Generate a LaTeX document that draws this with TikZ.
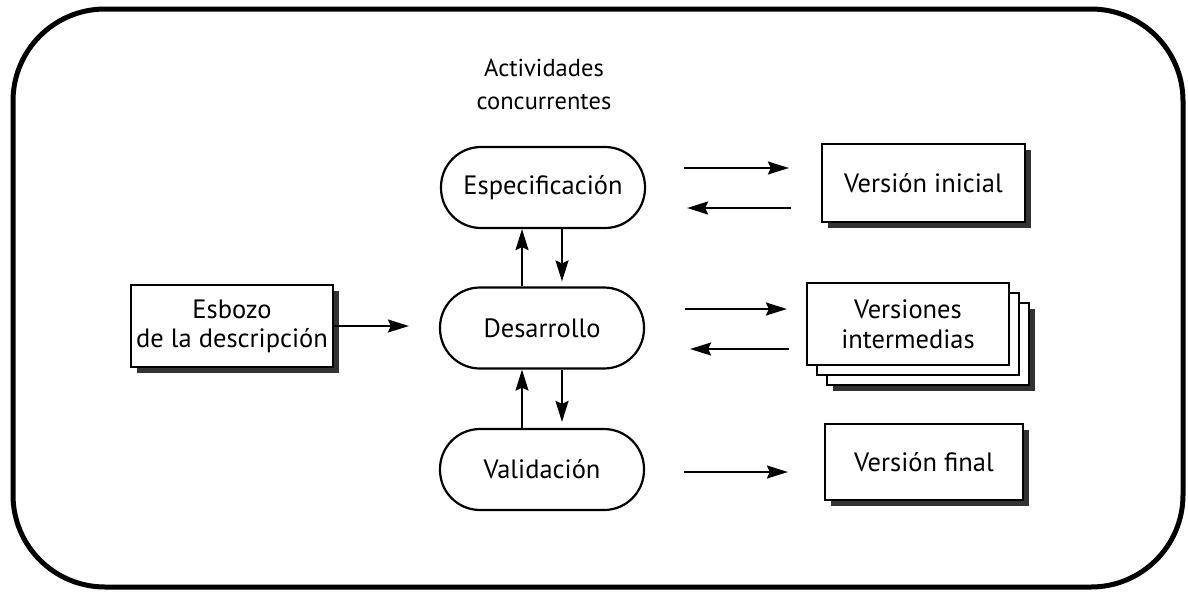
\documentclass[tikz,border=0pt]{standalone}
\usepackage{fontspec}
\setmainfont{PT Sans}
\usetikzlibrary{arrows.meta,shadows,calc}
\begin{document}
\begin{tikzpicture}[x=1pt,y=-1pt,
  every node/.style={font=\fontsize{26.5}{29}\selectfont},
  pill/.style={draw,line width=2.2pt,rounded corners=40pt,minimum width=204pt,minimum height=81pt,inner sep=0pt,align=center},
  vbox/.style={draw,line width=2.2pt,fill=white,minimum width=202pt,minimum height=80pt,inner sep=0pt,align=center,
     drop shadow={shadow xshift=6pt,shadow yshift=-6pt,fill=black!80,opacity=1}},
  plainbox/.style={draw,line width=2.2pt,fill=white,minimum width=202pt,minimum height=82pt,inner sep=0pt,align=center},
  arr/.style={line width=2pt,-{Stealth[length=21pt,width=13pt,inset=3pt]}}]
\useasboundingbox (0,0) rectangle (1188,592);
\draw[line width=5pt,rounded corners=92pt] (13,9) rectangle (1183,587);

\node[font=\fontsize{24.5}{33}\selectfont,align=center] (title) at (544,84) {Actividades\\concurrentes};

\node[pill] (espec) at (543,187.5) {Especificación};
\node[pill] (desa) at (542,328) {Desarrollo};
\node[pill] (vali) at (542,469.5) {Validación};

\node[vbox,minimum width=202pt,minimum height=82pt] (esbozo) at (232,326) {Esbozo\\de la descripción};
\node[vbox,minimum width=203pt,minimum height=78pt] (vinicial) at (923.5,183) {Versión inicial};
\node[vbox,minimum width=198pt,minimum height=76pt] (vfinal) at (924,462) {Versión final};

\node[vbox,minimum width=202pt,minimum height=82pt] (vback) at (928,344) {};
\node[plainbox] (vmid) at (918,334) {};
\node[plainbox,font=\fontsize{26.5}{30}\selectfont] (vinter) at (908,324) {Versiones\\intermedias};

% horizontal arrows
\draw[arr,shorten <=38pt,shorten >=32pt] ([yshift=19.5pt]espec.east) -- ([yshift=19.5pt]espec.east -| vinicial.west);
\draw[arr,shorten <=30pt,shorten >=41pt] ([yshift=-20.5pt]espec.east -| vinicial.west) -- ([yshift=-20.5pt]espec.east);
\draw[arr,shorten <=40pt,shorten >=19pt] ([yshift=19pt]desa.east) -- ([yshift=19pt]desa.east -| vinter.west);
\draw[arr,shorten <=17pt,shorten >=45pt] ([yshift=-21pt]desa.east -| vinter.west) -- ([yshift=-21pt]desa.east);
\draw[arr,shorten <=39pt,shorten >=36pt] ([yshift=-2.5pt]vali.east) -- ([yshift=-2.5pt]vali.east -| vfinal.west);
\draw[arr,shorten >=30pt] (esbozo.east) -- (esbozo.east -| desa.west);

% vertical arrows
\draw[arr] ([xshift=-20pt]desa.north) -- ([xshift=-20pt]desa.north |- espec.south);
\draw[arr,shorten >=5pt] ([xshift=20pt]desa.north |- espec.south) -- ([xshift=20pt]desa.north);
\draw[arr] ([xshift=-20pt]vali.north) -- ([xshift=-20pt]vali.north |- desa.south);
\draw[arr,shorten >=6pt] ([xshift=20pt]vali.north |- desa.south) -- ([xshift=20pt]vali.north);
\end{tikzpicture}
\end{document}
